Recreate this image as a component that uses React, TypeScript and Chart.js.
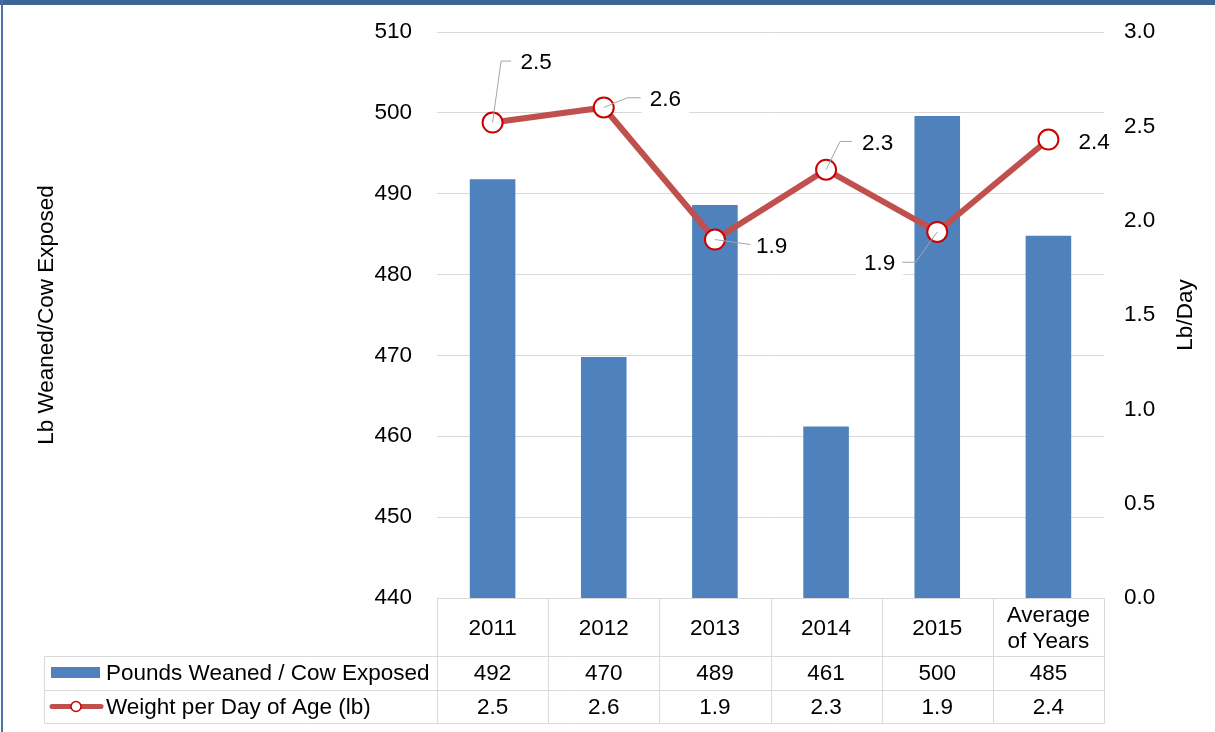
import React, { useEffect, useRef } from 'react';
import { Chart, registerables } from 'chart.js';

Chart.register(...registerables);

// ---------- data ----------
const categories = ['2011', '2012', '2013', '2014', '2015', 'Average of Years'];
const categoryLines = [['2011'], ['2012'], ['2013'], ['2014'], ['2015'], ['Average', 'of Years']];
const poundsWeaned = [491.8, 469.8, 488.6, 461.2, 499.6, 484.8];
const weightPerDay = [2.52, 2.6, 1.9, 2.27, 1.94, 2.43];
const seriesNames = ['Pounds Weaned / Cow Exposed', 'Weight per Day of Age (lb)'];
const leftTicks = [440, 450, 460, 470, 480, 490, 500, 510];
const rightTicks = [0, 0.5, 1, 1.5, 2, 2.5, 3];
const leftTitle = 'Lb Weaned/Cow Exposed';
const rightTitle = 'Lb/Day';

// ---------- styling / layout ----------
const FONT_FAMILY = '"Liberation Sans", Arial, sans-serif';
const FONT_SIZE = 22.5;
const FONT = `${FONT_SIZE}px ${FONT_FAMILY}`;
const BAR_COLOR = '#4f81bd';
const LINE_COLOR = '#c0504d';
const MARKER_BORDER = '#cc0000';
const GRID_COLOR = '#d9d9d9';
const LEADER_COLOR = '#a6a6a6';
const TEXT_COLOR = '#000000';

// data-label placement relative to each point (label layout, not data)
const labelLayout: { dx: number; dy: number; align: 'left' | 'right'; leader: number[][] }[] = [
  { dx: 28, dy: -61, align: 'left', leader: [[8.5, -61.5], [18.5, -61.5]] },
  { dx: 46, dy: -9, align: 'left', leader: [[23.5, -9.7], [37, -9.7]] },
  { dx: 41, dy: 6, align: 'left', leader: [[35.5, 5]] },
  { dx: 36, dy: -27, align: 'left', leader: [[14, -28.3], [25.7, -28.3]] },
  { dx: -42, dy: 31, align: 'right', leader: [[-21.7, 30.3], [-35, 30.3]] },
  { dx: 30, dy: 2.5, align: 'left', leader: [] },
];

const frameplugin = {
  id: 'frame',
  beforeDraw(chart: any) {
    const { ctx, width, height } = chart;
    ctx.save();
    ctx.fillStyle = '#ffffff';
    ctx.fillRect(0, 0, width, height);
    ctx.fillStyle = '#3d6597';
    ctx.fillRect(0, 0, width, 5);
    ctx.fillStyle = '#4a72a8';
    ctx.fillRect(1, 0, 2, height);
    ctx.restore();
  },
};

const dataLabelPlugin = {
  id: 'dataLabels',
  afterDatasetsDraw(chart: any) {
    const meta = chart.getDatasetMeta(1);
    const ctx = chart.ctx;
    ctx.save();
    ctx.font = FONT;
    ctx.textBaseline = 'middle';
    ctx.textAlign = 'left';
    meta.data.forEach((pt: any, i: number) => {
      const { x, y } = pt.getProps(['x', 'y'], true);
      const lay = labelLayout[i];
      const text = weightPerDay[i].toFixed(1);
      const w = ctx.measureText(text).width;
      const tx = x + lay.dx;
      const ty = y + lay.dy;
      const left = lay.align === 'left' ? tx : tx - w;
      ctx.fillStyle = '#ffffff';
      ctx.fillRect(left - 8, ty - 16, w + 16, 32);
      if (lay.leader.length) {
        ctx.strokeStyle = LEADER_COLOR;
        ctx.lineWidth = 1;
        ctx.beginPath();
        ctx.moveTo(x, y);
        lay.leader.forEach(([lx, ly]) => ctx.lineTo(x + lx, y + ly));
        ctx.stroke();
      }
      ctx.fillStyle = TEXT_COLOR;
      ctx.fillText(text, left, ty + 1);
    });
    ctx.restore();
  },
};

const tablePlugin = {
  id: 'dataTable',
  afterDraw(chart: any) {
    const { ctx, chartArea: ca } = chart;
    const n = categories.length;
    const colW = (ca.right - ca.left) / n;
    const top = ca.bottom;
    const rowY = [top, top + 58, top + 92, top + 125];
    const legendLeft = 44;
    const crisp = (v: number) => Math.round(v) + 0.5;
    const line = (x1: number, y1: number, x2: number, y2: number) => {
      ctx.beginPath();
      ctx.moveTo(crisp(x1), crisp(y1));
      ctx.lineTo(crisp(x2), crisp(y2));
      ctx.stroke();
    };
    ctx.save();
    ctx.strokeStyle = GRID_COLOR;
    ctx.lineWidth = 1;
    line(ca.left, rowY[0], ca.right, rowY[0]);
    for (let r = 1; r < rowY.length; r++) line(legendLeft, rowY[r], ca.right, rowY[r]);
    line(legendLeft, rowY[1], legendLeft, rowY[3]);
    for (let c = 0; c <= n; c++) {
      const x = ca.left + c * colW;
      line(x, rowY[0], x, rowY[3]);
    }

    ctx.font = FONT;
    ctx.fillStyle = TEXT_COLOR;
    ctx.textAlign = 'center';
    ctx.textBaseline = 'middle';
    const headerMid = (rowY[0] + rowY[1]) / 2;
    categoryLines.forEach((lines, i) => {
      const cx = ca.left + (i + 0.5) * colW;
      const lh = 26;
      lines.forEach((t, j) => {
        const yy = headerMid - ((lines.length - 1) * lh) / 2 + j * lh;
        ctx.fillText(t, cx, yy + 2);
      });
    });
    const row1Mid = (rowY[1] + rowY[2]) / 2;
    const row2Mid = (rowY[2] + rowY[3]) / 2;
    poundsWeaned.forEach((v, i) => {
      const cx = ca.left + (i + 0.5) * colW;
      ctx.fillText(v.toFixed(0), cx, row1Mid + 1);
    });
    weightPerDay.forEach((v, i) => {
      const cx = ca.left + (i + 0.5) * colW;
      ctx.fillText(v.toFixed(1), cx, row2Mid + 1);
    });

    // legend keys
    ctx.fillStyle = BAR_COLOR;
    ctx.fillRect(51, row1Mid - 6, 49, 11);
    ctx.strokeStyle = LINE_COLOR;
    ctx.lineWidth = 5;
    ctx.lineCap = 'round';
    ctx.beginPath();
    ctx.moveTo(52, row2Mid);
    ctx.lineTo(101, row2Mid);
    ctx.stroke();
    ctx.beginPath();
    ctx.arc(76, row2Mid, 5, 0, Math.PI * 2);
    ctx.fillStyle = '#ffffff';
    ctx.fill();
    ctx.lineWidth = 1.5;
    ctx.strokeStyle = MARKER_BORDER;
    ctx.stroke();

    ctx.fillStyle = TEXT_COLOR;
    ctx.textAlign = 'left';
    ctx.fillText(seriesNames[0], 106, row1Mid + 1);
    ctx.fillText(seriesNames[1], 106, row2Mid + 1);

    // right axis title (reads bottom-to-top)
    ctx.save();
    ctx.translate(chart.width - 29, (ca.top + ca.bottom) / 2);
    ctx.rotate(-Math.PI / 2);
    ctx.textAlign = 'center';
    ctx.fillText(rightTitle, 0, 0);
    ctx.restore();

    ctx.restore();
  },
};

export default function App() {
  const ref = useRef<HTMLCanvasElement>(null);

  useEffect(() => {
    document.body.style.margin = '0';
    const canvas = ref.current!;
    const chart = new Chart(canvas, {
      type: 'bar',
      data: {
        labels: categories,
        datasets: [
          {
            type: 'bar',
            label: seriesNames[0],
            data: poundsWeaned,
            backgroundColor: BAR_COLOR,
            borderWidth: 0,
            yAxisID: 'y',
            barPercentage: 0.41,
            categoryPercentage: 1,
            order: 1,
          },
          {
            type: 'line',
            label: seriesNames[1],
            data: weightPerDay,
            borderColor: LINE_COLOR,
            borderWidth: 6,
            pointRadius: 10,
            pointBorderWidth: 2,
            pointBackgroundColor: '#ffffff',
            pointBorderColor: MARKER_BORDER,
            tension: 0,
            yAxisID: 'y1',
            order: 0,
          } as any,
        ],
      },
      options: {
        responsive: false,
        animation: false,
        devicePixelRatio: 1,
        layout: { padding: { left: 0, right: 0, top: 32, bottom: 134 } },
        plugins: {
          legend: { display: false },
          tooltip: { enabled: false },
        },
        font: { family: FONT_FAMILY, size: FONT_SIZE },
        scales: {
          x: {
            display: false,
            offset: true,
          },
          y: {
            position: 'left',
            min: leftTicks[0],
            max: leftTicks[leftTicks.length - 1],
            beginAtZero: false,
            afterBuildTicks: (scale: any) => {
              scale.ticks = leftTicks.map((v) => ({ value: v }));
            },
            afterFit: (scale: any) => {
              scale.width = 437;
              scale.paddingTop = 0;
              scale.paddingBottom = 0;
            },
            grid: { color: GRID_COLOR, drawTicks: false, lineWidth: 1 },
            border: { display: false },
            ticks: {
              padding: 25,
              color: TEXT_COLOR,
              font: { family: FONT_FAMILY, size: FONT_SIZE },
              callback: (v: any) => String(v),
            },
            title: {
              display: true,
              text: leftTitle,
              color: TEXT_COLOR,
              font: { family: FONT_FAMILY, size: FONT_SIZE },
              padding: { top: 33, bottom: 0 },
            },
          },
          y1: {
            position: 'right',
            min: rightTicks[0],
            max: rightTicks[rightTicks.length - 1],
            afterBuildTicks: (scale: any) => {
              scale.ticks = rightTicks.map((v) => ({ value: v }));
            },
            afterFit: (scale: any) => {
              scale.width = 111;
              scale.paddingTop = 0;
              scale.paddingBottom = 0;
            },
            grid: { display: false, drawTicks: false },
            border: { display: false },
            ticks: {
              padding: 20,
              color: TEXT_COLOR,
              font: { family: FONT_FAMILY, size: FONT_SIZE },
              callback: (v: any) => Number(v).toFixed(1),
            },
          },
        },
      } as any,
      plugins: [frameplugin, dataLabelPlugin, tablePlugin],
    });
    return () => chart.destroy();
  }, []);

  return (
    <div style={{ position: 'absolute', left: 0, top: 0, width: 1215, height: 732 }}>
      <canvas ref={ref} width={1215} height={732} style={{ display: 'block' }} />
    </div>
  );
}
